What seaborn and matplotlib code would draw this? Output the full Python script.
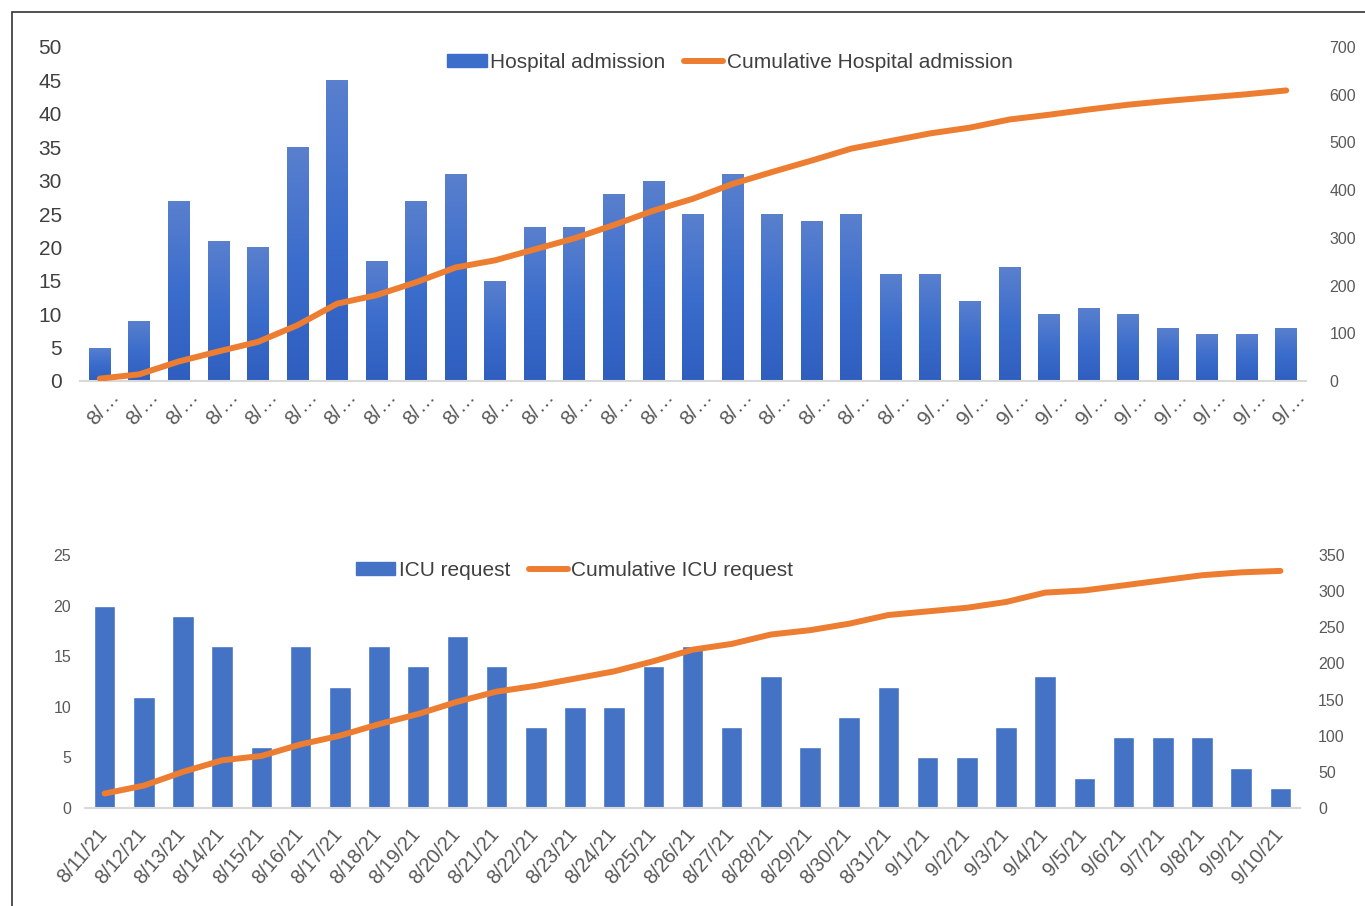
import numpy as np
import pandas as pd
import matplotlib
matplotlib.use('Agg')
import matplotlib.pyplot as plt
import matplotlib.patches as mpatches
import matplotlib.transforms as mtransforms
from matplotlib.lines import Line2D
from matplotlib.colors import LinearSegmentedColormap
import seaborn as sns

# Dates shared by both panels
dates = ['8/11/21', '8/12/21', '8/13/21', '8/14/21', '8/15/21', '8/16/21', '8/17/21',
         '8/18/21', '8/19/21', '8/20/21', '8/21/21', '8/22/21', '8/23/21', '8/24/21',
         '8/25/21', '8/26/21', '8/27/21', '8/28/21', '8/29/21', '8/30/21', '8/31/21',
         '9/1/21', '9/2/21', '9/3/21', '9/4/21', '9/5/21', '9/6/21', '9/7/21',
         '9/8/21', '9/9/21', '9/10/21']

# Hospital admission
hospital = [5, 9, 27, 21, 20, 35, 45, 18, 27, 31, 15, 23, 23, 28, 30, 25, 31,
            25, 24, 25, 16, 16, 12, 17, 10, 11, 10, 8, 7, 7, 8]
hospital_cum = [5, 14, 41, 62, 82, 117, 162, 180, 207, 238, 253, 276, 299, 327,
                357, 382, 413, 438, 462, 487, 503, 519, 531, 548, 558, 569, 579,
                587, 594, 601, 609]

# ICU request
icu = [20, 11, 19, 16, 6, 16, 12, 16, 14, 17, 14, 8, 10, 10, 14, 16, 8, 13, 6,
       9, 12, 5, 5, 8, 13, 3, 7, 7, 7, 4, 2]
icu_cum = [20, 31, 50, 66, 72, 88, 100, 116, 130, 147, 161, 169, 179, 189, 203,
           219, 227, 240, 246, 255, 267, 272, 277, 285, 298, 301, 308, 315, 322,
           326, 328]

sns.set_theme(style='white')
plt.rcParams['font.family'] = ['Liberation Sans', 'DejaVu Sans']

BLUE_TOP = '#3D6DCB'
BLUE = '#4472C4'
ORANGE = '#ED7D31'
TXT = '#404040'
TXT2 = '#595959'
AXIS = '#D9D9D9'
grad = LinearSegmentedColormap.from_list('bar_grad', ['#5A80CE', '#3B6DCC', '#2F5EBF'])

fig = plt.figure(figsize=(13.65, 9.06), dpi=100)

# outer frame
fig.patches.append(mpatches.Rectangle((12 / 1365, -0.01), 1.2, 1 - 12 / 906 + 0.01,
                                      transform=fig.transFigure, fill=False,
                                      edgecolor='#333333', linewidth=1.2))


def draw_panel(ax, values, cum, ymax, ystep, y2max, y2step, labels, bar_color,
               bar_label, line_label, left_fs, left_pad, right_pad, xlab_fs,
               xlab_pad, xlab_shift, leg_pos, leg_fs, tick_color, gradient=False):
    df = pd.DataFrame({'date': dates, 'value': values})
    sns.barplot(data=df, x='date', y='value', color=bar_color, width=0.55,
                saturation=1, ax=ax, zorder=2)
    ax.set_xlim(-0.5, len(dates) - 0.5)
    ax.set_ylim(0, ymax)
    ax.set_yticks(np.arange(0, ymax + 1, ystep))
    ax.set_xlabel('')
    ax.set_ylabel('')

    if gradient:
        # vertical gradient inside each bar, like the Excel fill
        g = np.linspace(0, 1, 256).reshape(-1, 1)
        for p in list(ax.patches):
            x0, y0 = p.get_x(), p.get_y()
            w, h = p.get_width(), p.get_height()
            im = ax.imshow(g, cmap=grad, aspect='auto', extent=(x0, x0 + w, y0, y0 + h),
                           origin='upper', zorder=2.5, interpolation='bilinear')
            im.set_clip_path(p)
        ax.set_xlim(-0.5, len(dates) - 0.5)
        ax.set_ylim(0, ymax)

    for s in ['top', 'left', 'right']:
        ax.spines[s].set_visible(False)
    ax.spines['bottom'].set_color(AXIS)
    ax.spines['bottom'].set_linewidth(1.5)
    ax.tick_params(axis='y', length=0, labelsize=left_fs, labelcolor=tick_color, pad=left_pad)
    ax.set_xticks(np.arange(len(dates)))
    ax.set_xticklabels(labels, rotation=49, ha='right', rotation_mode='anchor',
                       fontsize=xlab_fs, color=TXT2)
    ax.tick_params(axis='x', length=0, pad=xlab_pad)
    shift = mtransforms.ScaledTranslation(xlab_shift[0] / 100, xlab_shift[1] / 100,
                                          fig.dpi_scale_trans)
    for lab in ax.get_xticklabels():
        lab.set_transform(lab.get_transform() + shift)
    # category separator ticks
    ax.set_xticks(np.arange(-0.5, len(dates), 1), minor=True)
    ax.tick_params(axis='x', which='minor', length=7, width=1.5, color=AXIS, direction='out')

    ax2 = ax.twinx()
    sns.lineplot(x=np.arange(len(dates)), y=cum, color=ORANGE, linewidth=4.3,
                 ax=ax2, solid_capstyle='round', solid_joinstyle='round', zorder=3)
    ax2.set_ylim(0, y2max)
    ax2.set_yticks(np.arange(0, y2max + 1, y2step))
    for s in ['top', 'left', 'right', 'bottom']:
        ax2.spines[s].set_visible(False)
    ax2.tick_params(axis='y', length=0, labelsize=11.5, labelcolor=TXT2, pad=right_pad)
    ax2.grid(False)
    ax.grid(False)

    handles = [mpatches.Patch(color=bar_color, label=bar_label),
               Line2D([0], [0], color=ORANGE, linewidth=4.3, label=line_label)]
    leg = ax.legend(handles=handles, loc='center', bbox_to_anchor=leg_pos,
                    ncol=2, frameon=False, fontsize=leg_fs, handlelength=1.9,
                    handletextpad=0.15, columnspacing=0.9, handleheight=0.6)
    for t in leg.get_texts():
        t.set_color(TXT)
    return ax2


ax_top = fig.add_axes([80 / 1365, 1 - 381 / 906, 1226 / 1365, 334 / 906])
top_labels = [d.split('/')[0] + '/\u2026' for d in dates]
draw_panel(ax_top, hospital, hospital_cum, 50, 5, 700, 100, top_labels, BLUE_TOP,
           'Hospital admission', 'Cumulative Hospital admission',
           15, 13, 17, 15, 6, (9, 2), (0.53, 0.955), 15, TXT, gradient=True)

ax_bot = fig.add_axes([85 / 1365, 1 - 808 / 906, 1215 / 1365, 253 / 906])
draw_panel(ax_bot, icu, icu_cum, 25, 5, 350, 50, dates, BLUE,
           'ICU request', 'Cumulative ICU request',
           11.5, 10, 13, 14.5, 12, (-8, 0), (0.403, 0.94), 15, TXT2)

fig.savefig('out.png', dpi=100)
